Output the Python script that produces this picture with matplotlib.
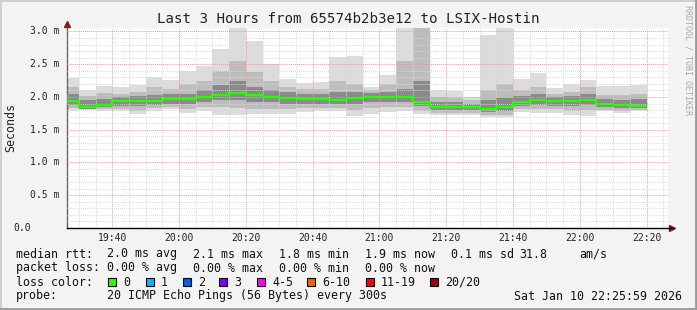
import numpy as np
import matplotlib
matplotlib.use('Agg')
import matplotlib.pyplot as plt
from matplotlib.lines import Line2D

# 5 minute steps, first one starts 19:25 (minutes since midnight)
step_start = 19 * 60 + 25
step_len = 5
n_steps = 35

# smoke: outer (max/min), second and third pairs, median rtt (ms)
rtt_max = [2.29, 2.10, 2.17, 2.15, 2.19, 2.30, 2.26, 2.39, 2.48, 2.73, 3.10, 2.85,
           2.50, 2.28, 2.21, 2.23, 2.61, 2.62, 2.15, 2.33, 3.10, 3.10, 2.10, 2.09,
           2.00, 2.94, 3.10, 2.28, 2.37, 2.13, 2.20, 2.26, 2.17, 2.17, 2.19]
rtt_hi2 = [2.15, 2.02, 2.06, 2.05, 2.08, 2.15, 2.12, 2.20, 2.25, 2.40, 2.55, 2.38,
           2.25, 2.15, 2.12, 2.12, 2.25, 2.20, 2.10, 2.20, 2.55, 3.10, 2.00, 1.98,
           1.95, 2.10, 2.20, 2.10, 2.15, 2.05, 2.08, 2.15, 2.03, 2.03, 2.05]
rtt_hi3 = [2.05, 1.95, 1.97, 2.00, 2.01, 2.03, 2.04, 2.05, 2.10, 2.18, 2.25, 2.15,
           2.10, 2.07, 2.05, 2.05, 2.08, 2.07, 2.06, 2.08, 2.12, 2.25, 1.93, 1.92,
           1.90, 1.95, 1.98, 2.02, 2.05, 2.00, 2.01, 2.05, 1.97, 1.96, 1.97]
rtt_med = [1.944, 1.85, 1.88, 1.94, 1.94, 1.94, 1.97, 1.97, 2.00, 2.035, 2.056, 2.035,
           2.00, 1.99, 1.97, 1.97, 1.96, 1.99, 2.005, 2.005, 2.005, 1.93, 1.84, 1.84,
           1.84, 1.81, 1.85, 1.93, 1.96, 1.94, 1.94, 1.96, 1.90, 1.88, 1.87]
rtt_lo3 = [1.88, 1.82, 1.84, 1.87, 1.86, 1.88, 1.90, 1.89, 1.92, 1.95, 1.95, 1.92,
           1.92, 1.90, 1.90, 1.90, 1.89, 1.90, 1.93, 1.93, 1.93, 1.86, 1.80, 1.80,
           1.80, 1.77, 1.78, 1.87, 1.88, 1.87, 1.86, 1.88, 1.84, 1.83, 1.83]
rtt_lo2 = [1.83, 1.81, 1.81, 1.82, 1.79, 1.83, 1.85, 1.81, 1.84, 1.84, 1.83, 1.82,
           1.82, 1.82, 1.83, 1.83, 1.83, 1.80, 1.83, 1.84, 1.85, 1.79, 1.76, 1.76,
           1.76, 1.73, 1.73, 1.81, 1.81, 1.81, 1.79, 1.80, 1.80, 1.79, 1.80]
rtt_min = [1.79, 1.80, 1.79, 1.79, 1.74, 1.79, 1.81, 1.75, 1.79, 1.73, 1.73, 1.74,
           1.74, 1.74, 1.77, 1.78, 1.79, 1.71, 1.74, 1.77, 1.79, 1.74, 1.73, 1.72,
           1.73, 1.69, 1.69, 1.77, 1.76, 1.76, 1.73, 1.71, 1.78, 1.75, 1.78]

y_ticks = [0.0, 0.5, 1.0, 1.5, 2.0, 2.5, 3.0]
y_labels = ['0.0', '0.5 m', '1.0 m', '1.5 m', '2.0 m', '2.5 m', '3.0 m']
x_labels = ['19:40', '20:00', '20:20', '20:40', '21:00', '21:20', '21:40', '22:00', '22:20']

loss_names = ['0', '1', '2', '3', '4-5', '6-10', '11-19', '20/20']
loss_colors = ['#26ff00', '#00b8ff', '#0059ff', '#7e00ff', '#ff00ff', '#ff5e00', '#ff0000', '#a10000']

title = 'Last 3 Hours from 65574b2b3e12 to LSIX-Hostin'

plt.rcParams['font.family'] = 'DejaVu Sans Mono'

W, H = 697, 310
fig = plt.figure(figsize=(W / 100, H / 100), dpi=100, facecolor='#f3f3f3')

# plot area in pixels
px_l, px_r, px_t, px_b = 67, 668, 27.7, 228
ax = fig.add_axes([px_l / W, 1 - px_b / H, (px_r - px_l) / W, (px_b - px_t) / H])
ax.set_facecolor('white')

edges = step_start + step_len * np.arange(n_steps + 1)

ax.stairs(rtt_max, edges, baseline=rtt_min, fill=True, color='#dcdcdc', lw=0, zorder=1)
ax.stairs(rtt_hi2, edges, baseline=rtt_lo2, fill=True, color='#bdbdbd', lw=0, zorder=2)
ax.stairs(rtt_hi3, edges, baseline=rtt_lo3, fill=True, color='#8a8a8a', lw=0, zorder=3)
ax.stairs(rtt_med, edges, baseline=None, color='#26ff00', lw=1.6, zorder=6)

x0 = 19 * 60 + 26.43
ax.set_xlim(x0, x0 + 180)
ax.set_ylim(0, 3.058)

# grid
for m in range(19 * 60 + 30, 22 * 60 + 30, 5):
    if m % 20 == 0:
        ax.axvline(m, color='#f29a9a', lw=0.7, ls=(0, (1, 1)), zorder=4)
    else:
        ax.axvline(m, color='#d8d8d8', lw=0.7, ls=(0, (1, 1)), alpha=0.9, zorder=4)
for v in np.arange(1, 31) / 10:
    if round(v * 10) % 5 == 0:
        ax.axhline(v, color='#f29a9a', lw=0.7, ls=(0, (1, 1)), zorder=4)
    else:
        ax.axhline(v, color='#d8d8d8', lw=0.7, ls=(0, (1, 1)), alpha=0.9, zorder=4)

ax.set_xticks([])
ax.set_yticks([])
for s in ['top', 'right']:
    ax.spines[s].set_visible(False)
ax.spines['left'].set_color('#606060')
ax.spines['bottom'].set_color('black')
ax.spines['left'].set_linewidth(1.0)
ax.spines['bottom'].set_linewidth(1.0)
ax.spines['bottom'].set_bounds(x0, x0 + 181.5)
ax.plot([0], [1.02], marker='^', color='#8b1a1a', ms=5, transform=ax.transAxes, clip_on=False)
ax.plot([1.007], [0], marker='>', color='#8b1a1a', ms=5, transform=ax.transAxes, clip_on=False)

# tick labels
ytr = ax.get_yaxis_transform()
for v, lab in zip(y_ticks, y_labels):
    xp = 13 if v == 0 else 30
    ax.text((xp - px_l) / (px_r - px_l), v, lab, transform=ytr, ha='left', va='center',
            fontsize=7, color='#222222')
xtr = ax.get_xaxis_transform()
for i, lab in enumerate(x_labels):
    m = 19 * 60 + 40 + 20 * i
    ax.text(m, -10 / (px_b - px_t), lab, transform=xtr, ha='center', va='center',
            fontsize=7, color='#222222')

fig.text(348 / W, 1 - 19 / H, title, ha='center', va='center', fontsize=10.2, color='#222222')
fig.text(11 / W, 1 - 127 / H, 'Seconds', rotation=90, ha='center', va='center', fontsize=8.4,
         color='#222222')
fig.text(688 / W, 1 - 60 / H, 'RRDTOOL / TOBI OETIKER', rotation=270, ha='center', va='center',
         fontsize=6, color='#aaaaaa')

# legend rows
def row(x, y, s):
    fig.text(x / W, 1 - y / H, s, ha='left', va='center', fontsize=8.4, color='#111111')

row(16, 254, 'median rtt:')
row(107, 254, '2.0 ms avg')
row(193, 254, '2.1 ms max')
row(279, 254, '1.8 ms min')
row(365, 254, '1.9 ms now')
row(451, 254, '0.1 ms sd')
row(519, 254, '31.8')
row(579, 254, 'am/s')

row(16, 268, 'packet loss:')
row(107, 268, '0.00 % avg')
row(193, 268, '0.00 % max')
row(279, 268, '0.00 % min')
row(365, 268, '0.00 % now')

row(16, 282, 'loss color:')
box_x = [108, 146, 183, 219, 257, 307, 366, 430]
for bx, name, c in zip(box_x, loss_names, loss_colors):
    fig.patches.append(plt.Rectangle((bx / W, 1 - 286 / H), 8 / W, 8 / H, transform=fig.transFigure,
                                     facecolor=c, edgecolor='black', lw=0.8))
    row(bx + 15, 282, name)

row(16, 296, 'probe:')
row(107, 296, '20 ICMP Echo Pings (56 Bytes) every 300s')
row(514, 296, 'Sat Jan 10 22:25:59 2026')

# 3d frame
fig.add_artist(Line2D([0, 1], [1 - 1 / H, 1 - 1 / H], transform=fig.transFigure, color='#cfcfcf', lw=1.5))
fig.add_artist(Line2D([1 / W, 1 / W], [0, 1], transform=fig.transFigure, color='#cfcfcf', lw=1.5))
fig.add_artist(Line2D([0, 1], [1.5 / H, 1.5 / H], transform=fig.transFigure, color='#9a9a9a', lw=2))
fig.add_artist(Line2D([1 - 1.5 / W, 1 - 1.5 / W], [0, 1], transform=fig.transFigure, color='#9a9a9a', lw=2))

fig.savefig('out.png', dpi=100, facecolor=fig.get_facecolor())
